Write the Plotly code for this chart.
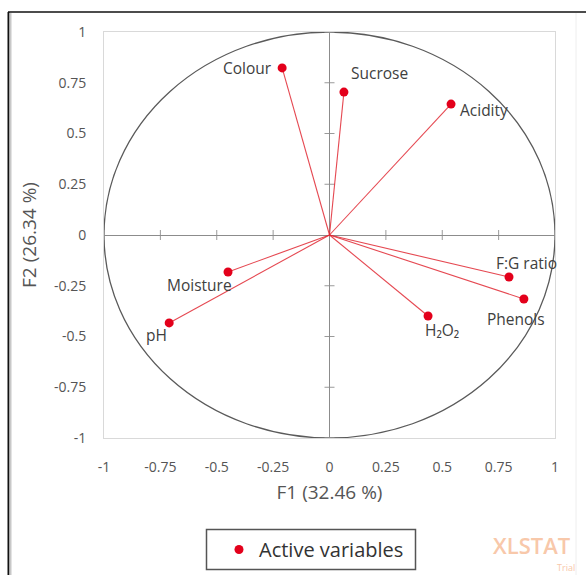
import plotly.graph_objects as go

# ---------------- data ----------------
variables = ["Colour", "Sucrose", "Acidity", "F:G ratio", "Phenols", "H₂O₂", "Moisture", "pH"]
f1 = [-0.21, 0.064, 0.539, 0.796, 0.862, 0.437, -0.45, -0.711]
f2 = [0.823, 0.704, 0.645, -0.207, -0.315, -0.399, -0.182, -0.433]
tick_vals = [-1, -0.75, -0.5, -0.25, 0, 0.25, 0.5, 0.75, 1]
tick_text = ["-1", "-0.75", "-0.5", "-0.25", "0", "0.25", "0.5", "0.75", "1"]
x_title = "F1 (32.46 %)"
y_title = "F2 (26.34 %)"
legend_name = "Active variables"

# ---------------- layout geometry ----------------
W, H = 586, 575
L, R, T, B = 104, 555, 32, 438
FONT = "Open Sans"
RED = "#e3001b"


def px_x(p):
    return (p - L) / (R - L)


def px_y(p):
    return (B - p) / (B - T)


# label placement (xanchor, yanchor, xshift, yshift) per variable
label_style = {
    "Colour": ("right", "middle", -8, 0),
    "Sucrose": ("left", "middle", 5, 19),
    "Acidity": ("left", "middle", 7, -6),
    "F:G ratio": ("center", "middle", 17, 14),
    "Phenols": ("center", "middle", -8, -20),
    "H₂O₂": ("center", "middle", 14, -14),
    "Moisture": ("right", "middle", 6, -13),
    "pH": ("right", "middle", 0, -12),
}

fig = go.Figure()

# vectors from origin
lx, ly = [], []
for a, b in zip(f1, f2):
    lx += [0, a, None]
    ly += [0, b, None]
fig.add_trace(go.Scatter(x=lx, y=ly, mode="lines",
                         line=dict(color="rgba(225,40,50,0.85)", width=1.1),
                         showlegend=False, hoverinfo="skip"))

fig.add_trace(go.Scatter(x=f1, y=f2, mode="markers", name=legend_name,
                         text=variables,
                         marker=dict(color=RED, size=9),
                         showlegend=True))

annotations = []
for name, a, b in zip(variables, f1, f2):
    xa, ya, xs, ys = label_style[name]
    annotations.append(dict(x=a, y=b, xref="x", yref="y", text=name, showarrow=False,
                            xanchor=xa, yanchor=ya, xshift=xs, yshift=ys,
                            font=dict(family=FONT, size=15.5, color="#404040")))

# watermark
annotations.append(dict(x=px_x(492), y=px_y(545), xref="paper", yref="paper", text="XLSTAT",
                        showarrow=False, xanchor="left", yanchor="middle", borderpad=0,
                        font=dict(family=FONT, size=22, color="#f8c8aa", weight=600)))
annotations.append(dict(x=px_x(556), y=px_y(575), xref="paper", yref="paper", text="Trial",
                        showarrow=False, xanchor="left", yanchor="bottom", borderpad=0,
                        font=dict(family=FONT, size=9, color="#f8c8aa")))

shapes = []
# correlation circle
shapes.append(dict(type="circle", xref="x", yref="y", x0=-1, y0=-1, x1=1, y1=1,
                   line=dict(color="#5a5a5a", width=1.3), layer="below"))
# small tick marks on the central axes
for v in tick_vals:
    if v == 0:
        continue
    shapes.append(dict(type="line", xref="x", yref="y", xsizemode="pixel", xanchor=0,
                       x0=-5, x1=5, y0=v, y1=v, line=dict(color="#9a9a9a", width=1),
                       layer="below"))
    shapes.append(dict(type="line", xref="x", yref="y", ysizemode="pixel", yanchor=0,
                       y0=-5, y1=5, x0=v, x1=v, line=dict(color="#9a9a9a", width=1),
                       layer="below"))
# outer frame (left and top dark edges)
shapes.append(dict(type="line", xref="paper", yref="paper", x0=px_x(8.5), x1=px_x(8.5),
                   y0=px_y(12), y1=px_y(575), line=dict(color="#111111", width=2)))
shapes.append(dict(type="line", xref="paper", yref="paper", x0=px_x(10.5), x1=px_x(10.5),
                   y0=px_y(13), y1=px_y(575), line=dict(color="#c8c8c8", width=2)))
shapes.append(dict(type="line", xref="paper", yref="paper", x0=px_x(8), x1=px_x(586),
                   y0=px_y(12), y1=px_y(12), line=dict(color="#111111", width=1.5)))
shapes.append(dict(type="line", xref="paper", yref="paper", x0=px_x(576), x1=px_x(576),
                   y0=px_y(13), y1=px_y(575), line=dict(color="#eeeeee", width=1)))
# legend box
shapes.append(dict(type="rect", xref="paper", yref="paper", x0=px_x(206.5), x1=px_x(415.5),
                   y0=px_y(529.5), y1=px_y(569.5), line=dict(color="#555555", width=1.5),
                   fillcolor="rgba(0,0,0,0)"))

axis_common = dict(range=[-1, 1], tickvals=tick_vals, ticktext=tick_text,
                   showgrid=False, zeroline=True, zerolinecolor="#8c8c8c", zerolinewidth=1,
                   showline=True, mirror=True, linecolor="#d9d9d9", linewidth=1,
                   ticks="", tickfont=dict(family=FONT, size=14, color="#555555"),
                   fixedrange=True)

fig.update_layout(
    width=W, height=H,
    margin=dict(l=L, r=W - R, t=T, b=H - B, autoexpand=False),
    paper_bgcolor="white", plot_bgcolor="white",
    font=dict(family=FONT, color="#555555"),
    xaxis=dict(**axis_common, ticklabelstandoff=16,
               title=dict(text=x_title, standoff=10,
                          font=dict(family=FONT, size=19, color="#555555"))),
    yaxis=dict(**axis_common, ticklabelstandoff=14,
               title=dict(text=y_title, standoff=12,
                          font=dict(family=FONT, size=19, color="#555555"))),
    legend=dict(x=px_x(219), y=px_y(549.5), xanchor="left", yanchor="middle",
                orientation="h", borderwidth=0,
                bgcolor="rgba(0,0,0,0)", font=dict(family=FONT, size=20, color="#333333"),
                itemwidth=30),
    annotations=annotations,
    shapes=shapes,
    showlegend=True,
)

fig.write_html("out.html", config={"displayModeBar": False},
               post_script="document.body.style.margin='0';document.body.style.padding='0';")
